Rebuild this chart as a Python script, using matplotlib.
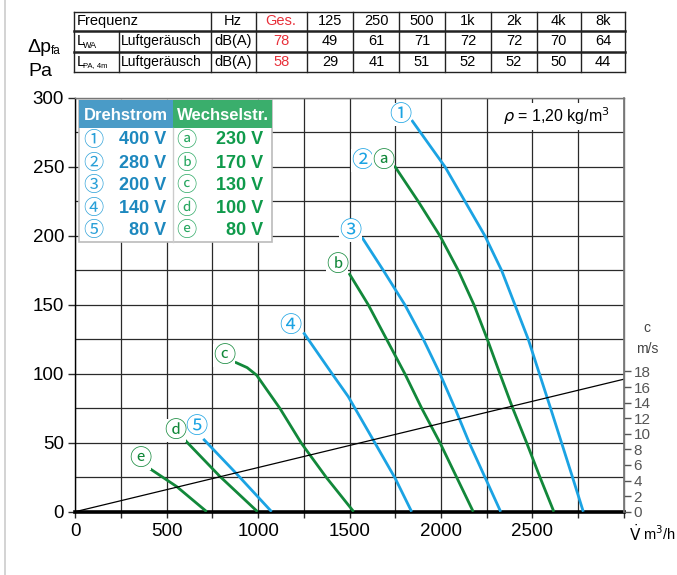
import matplotlib
matplotlib.use("Agg")
import matplotlib.pyplot as plt
import numpy as np
from matplotlib.patches import Rectangle

plt.rcParams['font.family'] = ['Liberation Sans', 'DejaVu Sans']

# === DATA ===
# fan curves: volume flow V [m3/h] vs pressure dp_fa [Pa]
v_1 = [1840, 2023, 2132, 2241, 2332, 2405, 2478, 2539, 2600, 2660, 2720, 2779]
dp_1 = [284, 250, 225, 200, 175, 150, 125, 100, 75, 50, 25, 0]
v_a = [1745, 1876, 1995, 2095, 2181, 2254, 2323, 2393, 2469, 2542, 2618]
dp_a = [251, 225, 200, 175, 150, 125, 100, 75, 50, 25, 0]
v_3 = [1568, 1685, 1803, 1904, 1995, 2077, 2155, 2241, 2327]
dp_3 = [199, 175, 150, 125, 100, 75, 50, 25, 0]
v_b = [1497, 1603, 1703, 1803, 1895, 1995, 2086, 2177]
dp_b = [173, 150, 125, 100, 75, 50, 25, 0]
v_4 = [1248, 1405, 1493, 1630, 1750, 1840]
dp_4 = [130, 100, 83.5, 52, 24.2, 0]
v_c = [873, 940, 992, 1050, 1119, 1237, 1374, 1523]
dp_c = [108.5, 104.5, 99, 88, 75, 49.6, 24.7, 0]
v_5 = [700, 883, 1074]
dp_5 = [52.8, 27.4, 0]
v_d = [595, 791, 997]
dp_d = [52.6, 25.6, 0]
v_e = [399, 555, 719]
dp_e = [32, 18.2, 0]

# outlet velocity line c [m/s]
v_line = [0, 3000]
c_line = [0, 17]

# noise table
freq_labels = ['Hz', 'Ges.', '125', '250', '500', '1k', '2k', '4k', '8k']
lwa_values = ['dB(A)', '78', '49', '61', '71', '72', '72', '70', '64']
lpa_values = ['dB(A)', '58', '29', '41', '51', '52', '52', '50', '44']

# legend
drehstrom_sym = ['\u2460', '\u2461', '\u2462', '\u2463', '\u2464']
drehstrom_volt = ['400 V', '280 V', '200 V', '140 V', '80 V']
wechsel_sym = ['\u24d0', '\u24d1', '\u24d2', '\u24d3', '\u24d4']
wechsel_volt = ['230 V', '170 V', '130 V', '100 V', '80 V']

# === STYLE ===
blue = '#1ba3e3'
green = '#12883a'
leg_blue = '#1d88be'
leg_green = '#0f9a4b'
red = '#e8303a'
grid_col = '#2a2a2a'
sym_font = ['Noto Sans CJK JP', 'DejaVu Sans']

W, H = 677, 575
fig = plt.figure(figsize=(W / 100, H / 100), dpi=100)

# main axes, placed in pixel coordinates
x0, x1, y0, y1 = 75.3, 623.7, 98.0, 511.7
ax = fig.add_axes([x0 / W, 1 - y1 / H, (x1 - x0) / W, (y1 - y0) / H])
ax.set_xlim(0, 3000)
ax.set_ylim(0, 300)

xt = np.arange(0, 3001, 250)
ax.set_xticks(xt)
ax.set_xticklabels([str(int(v)) if (v % 500 == 0 and v < 3000) else '' for v in xt])
ax.set_yticks(np.arange(0, 301, 50))
ax.set_yticks(np.arange(0, 301, 25), minor=True)
ax.tick_params(axis='x', direction='out', length=4, width=1, labelsize=13.5, pad=4, color=grid_col)
ax.tick_params(axis='y', direction='out', length=5, width=1, labelsize=13.5, pad=3, color=grid_col)
ax.tick_params(axis='y', which='minor', length=0)
ax.grid(True, which='both', color=grid_col, linewidth=0.9)
ax.set_axisbelow(True)

for side in ['top', 'right']:
    ax.spines[side].set_color('#777777')
    ax.spines[side].set_linewidth(1.0)
ax.spines['left'].set_linewidth(1.0)
ax.spines['bottom'].set_linewidth(2.6)

# curves
curves = [
    (v_1, dp_1, blue), (v_a, dp_a, green), (v_3, dp_3, blue), (v_b, dp_b, green),
    (v_4, dp_4, blue), (v_c, dp_c, green), (v_5, dp_5, blue), (v_d, dp_d, green),
    (v_e, dp_e, green),
]
for vx, dy, col in curves:
    ax.plot(vx, dy, color=col, linewidth=2.0, solid_capstyle='butt', solid_joinstyle='round', zorder=3)

# curve labels
labels = [
    ('\u2460', 1776, 287.8, blue), ('\u2461', 1570, 255, blue), ('\u24d0', 1685, 255, green),
    ('\u2462', 1506, 204, blue), ('\u24d1', 1431, 179, green), ('\u2463', 1178, 135, blue),
    ('\u24d2', 815, 113, green), ('\u2464', 664, 61.7, blue), ('\u24d3', 545, 58.6, green),
    ('\u24d4', 354, 38.8, green),
]
for s, lx, ly, col in labels:
    ax.text(lx, ly, s, color=col, fontsize=16, family=sym_font, ha='center', va='center', zorder=4,
            bbox=dict(boxstyle='square,pad=0.0', fc='white', ec='none'))

ax.text(0.975, 0.955, r'$\rho$ = 1,20 kg/m$^3$', transform=ax.transAxes, ha='right', va='center',
        fontsize=11.5, zorder=4, bbox=dict(boxstyle='square,pad=0.15', fc='white', ec='none'))

# right axis: velocity
ax2 = ax.twinx()
ax2.set_ylim(0, 300 / 5.65)
ax2.set_yticks(np.arange(0, 19, 2))
ax2.tick_params(axis='y', direction='out', length=5, width=1, labelsize=11, pad=2,
                colors='#555555')
ax2.spines['right'].set_color('#777777')
ax2.spines['right'].set_linewidth(1.2)
for side in ['top', 'left', 'bottom']:
    ax2.spines[side].set_visible(False)
ax2.plot(v_line, c_line, color='black', linewidth=0.9, zorder=2)

# overlay in pixel coordinates for the tables and free text
ov = fig.add_axes([0, 0, 1, 1], zorder=10)
ov.set_xlim(0, W)
ov.set_ylim(H, 0)
ov.axis('off')
ov.patch.set_alpha(0)

# left border line
ov.plot([5, 5], [0, H], color='#cccccc', linewidth=1.2)

# axis labels
ov.text(27, 47, '\u0394p', fontsize=14, ha='left', va='center')
ov.text(51, 51, 'fa', fontsize=8.5, ha='left', va='center')
ov.text(28, 71, 'Pa', fontsize=14, ha='left', va='center')
ov.text(647, 328, 'c', fontsize=10, ha='center', va='center', color='#444444')
ov.text(647, 349, 'm/s', fontsize=10, ha='center', va='center', color='#444444')
ov.text(629, 534, r'$\dot{\mathrm{V}}$', fontsize=11, ha='left', va='center')
ov.text(643, 534, 'm$^3$/h', fontsize=10.5, ha='left', va='center')

# --- noise table ---
col_x = [74.3, 118.7, 210.7, 255.6, 306.6, 353.2, 399.4, 444.7, 491.4, 536.7, 580.7, 625.2]
row_y = [11.7, 31.2, 51.7, 71.7]
lc = '#222222'
ov.plot([col_x[0], col_x[-1]], [row_y[0], row_y[0]], color=lc, linewidth=1.0)
ov.plot([col_x[0], col_x[-1]], [row_y[1], row_y[1]], color=lc, linewidth=1.8)
ov.plot([col_x[0], col_x[-1]], [row_y[2], row_y[2]], color=lc, linewidth=1.8)
ov.plot([col_x[0], col_x[-1]], [row_y[3], row_y[3]], color=lc, linewidth=1.0)
for i, cx in enumerate(col_x):
    top = row_y[1] if i == 1 else row_y[0]
    ov.plot([cx, cx], [top, row_y[3]], color=lc, linewidth=1.0)

tfs = 10.5
ov.text(col_x[0] + 2, (row_y[0] + row_y[1]) / 2, 'Frequenz', fontsize=tfs, ha='left', va='center')
ov.text(col_x[0] + 2, (row_y[1] + row_y[2]) / 2, 'L', fontsize=tfs, ha='left', va='center')
ov.text(col_x[0] + 9, (row_y[1] + row_y[2]) / 2 + 4, 'WA', fontsize=6.5, ha='left', va='center')
ov.text(col_x[0] + 2, (row_y[2] + row_y[3]) / 2, 'L', fontsize=tfs, ha='left', va='center')
ov.text(col_x[0] + 9, (row_y[2] + row_y[3]) / 2 + 4, 'PA, 4m', fontsize=5.5, ha='left', va='center')
for r in (1, 2):
    ov.text(col_x[1] + 2, (row_y[r] + row_y[r + 1]) / 2, 'Luftger\u00e4usch', fontsize=10,
            ha='left', va='center')
for j in range(len(freq_labels)):
    cx = (col_x[j + 2] + col_x[j + 3]) / 2
    col = red if j == 1 else 'black'
    for r, txt in enumerate([freq_labels[j], lwa_values[j], lpa_values[j]]):
        ov.text(cx, (row_y[r] + row_y[r + 1]) / 2, txt, fontsize=tfs, color=col,
                ha='center', va='center')

# --- legend table ---
lx0, lx1, lxm = 79, 272, 173
ly0, lyh, ly1 = 100, 128, 242
ov.add_patch(Rectangle((lx0, ly0), lx1 - lx0, ly1 - ly0, fc='white', ec='#bbbbbb', lw=1.2, zorder=1))
ov.add_patch(Rectangle((lx0, ly0), lxm - lx0, lyh - ly0, fc='#4a9bc7', ec='none', zorder=2))
ov.add_patch(Rectangle((lxm, ly0), lx1 - lxm, lyh - ly0, fc='#3aae6c', ec='none', zorder=2))
ov.plot([lxm, lxm], [lyh, ly1], color='#cccccc', linewidth=1.0, zorder=2)
ov.text((lx0 + lxm) / 2, (ly0 + lyh) / 2 + 1, 'Drehstrom', color='white', fontsize=12, weight='bold',
        ha='center', va='center', zorder=3)
ov.text((lxm + lx1) / 2, (ly0 + lyh) / 2 + 1, 'Wechselstr.', color='white', fontsize=12, weight='bold',
        ha='center', va='center', zorder=3)
rows = [140, 163.3, 185.5, 208.3, 230.5]
for k, ry in enumerate(rows):
    ov.text(93.3, ry, drehstrom_sym[k], color='#2aa0d8', fontsize=14.5, family=sym_font,
            ha='center', va='center', zorder=3)
    ov.text(166, ry, drehstrom_volt[k], color=leg_blue, fontsize=13, weight='bold',
            ha='right', va='center', zorder=3)
    ov.text(186.7, ry, wechsel_sym[k], color='#2aa862', fontsize=14.5, family=sym_font,
            ha='center', va='center', zorder=3)
    ov.text(263.3, ry, wechsel_volt[k], color=leg_green, fontsize=13, weight='bold',
            ha='right', va='center', zorder=3)

fig.savefig('out.png', dpi=100)
